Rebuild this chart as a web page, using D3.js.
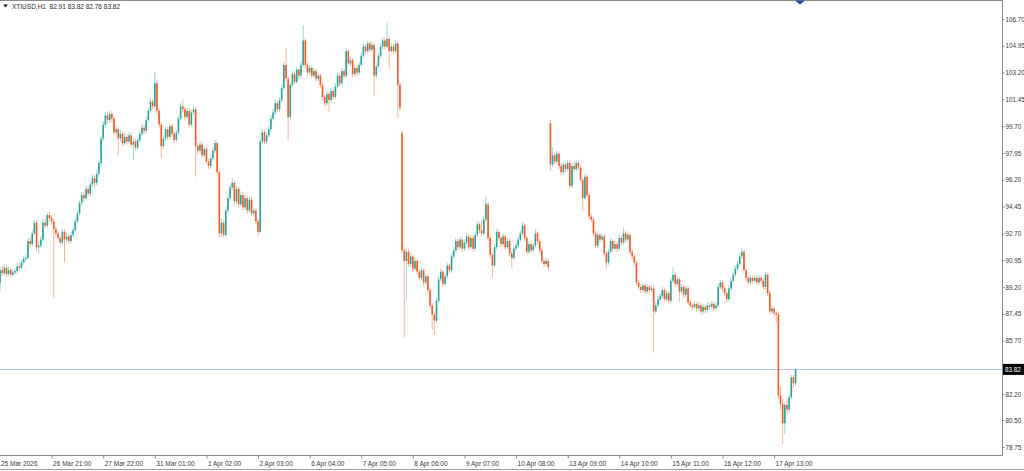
<!DOCTYPE html>
<html><head><meta charset="utf-8">
<script src="https://cdn.jsdelivr.net/npm/d3@7"></script>
<style>html,body{margin:0;padding:0;background:#fff;}svg{display:block;}</style>
</head><body><svg id="c" width="1024" height="471"></svg>
<script>
const symbol = "XTIUSD,H1";
const headerValues = ["82.91", "83.82", "82.76", "83.82"];

const opens = [
89.45,90.30,90.10,90.45,90.05,90.30,90.00,90.15,90.25,90.55,
90.45,90.80,91.05,91.10,92.20,92.00,92.70,93.40,91.80,91.90,
92.30,93.40,93.20,93.90,93.70,93.50,93.00,92.70,92.40,92.10,
92.80,92.30,92.50,92.20,92.60,92.90,93.50,94.00,94.70,95.20,
95.00,95.60,95.30,95.90,96.30,96.00,96.60,97.30,98.90,99.80,
100.40,100.10,100.50,100.20,99.30,99.50,98.90,99.20,98.60,99.00,
98.70,99.10,98.50,98.70,98.30,98.80,99.20,99.60,99.40,100.10,
100.70,101.30,101.00,102.50,100.70,99.80,98.40,98.90,99.50,99.00,
99.70,99.20,98.80,99.30,100.20,101.00,100.80,100.30,100.70,99.80,
100.60,100.80,98.40,98.10,98.50,97.80,98.20,97.40,97.10,97.60,
98.10,98.60,96.70,92.70,93.40,92.60,94.20,95.00,95.70,96.00,
94.80,95.60,94.60,95.20,94.40,95.00,94.20,94.90,94.00,94.20,
93.50,92.80,98.70,99.30,98.70,99.10,99.50,100.20,100.60,101.20,
100.80,101.40,102.20,103.70,102.80,100.30,102.40,103.10,102.60,103.40,
103.00,103.70,105.30,103.70,103.20,103.50,103.00,103.30,102.80,103.00,
102.40,101.60,101.20,101.80,101.40,102.00,101.60,102.30,103.00,102.50,
103.30,103.00,104.60,103.80,104.00,103.10,103.50,103.20,103.70,104.30,
104.90,104.60,105.10,104.70,105.00,103.00,103.60,104.30,104.90,105.30,
104.90,105.40,104.60,104.90,104.60,105.10,102.40,99.25,91.60,90.90,
91.50,90.70,91.20,90.40,90.90,90.20,89.80,90.30,89.50,89.90,
89.00,88.00,87.40,87.00,88.30,89.70,90.20,89.40,89.90,90.60,
90.30,91.20,91.60,92.20,91.80,92.30,91.70,92.10,92.50,91.80,
92.40,91.70,92.60,93.30,92.90,92.70,93.60,94.60,92.40,91.30,
90.60,91.80,92.80,92.40,92.00,92.50,91.80,92.20,91.40,91.10,
91.70,91.90,92.30,92.70,93.20,92.40,91.50,92.00,91.60,91.90,
92.70,92.20,91.60,90.90,90.70,90.90,99.90,97.20,97.80,97.40,
97.90,97.10,96.70,97.20,96.90,97.30,95.80,97.10,96.90,97.30,
97.00,96.20,95.00,96.40,95.20,93.80,93.60,92.70,91.90,92.60,
92.30,92.50,91.40,90.80,91.50,92.20,91.70,92.00,91.70,92.40,
92.10,92.70,92.30,92.60,91.50,91.20,90.80,89.50,89.20,89.00,
89.30,88.90,89.20,89.00,89.10,87.60,88.00,88.40,88.60,89.00,
88.40,88.80,88.30,89.60,90.00,89.40,89.70,88.90,89.20,88.70,
89.10,88.20,88.00,87.90,88.10,87.80,88.00,87.60,87.90,87.70,
88.00,87.90,88.10,87.80,88.00,89.20,89.50,89.10,88.80,88.40,
89.10,89.60,90.00,90.40,90.70,91.20,91.50,90.30,89.80,89.50,
89.80,89.60,89.80,89.50,89.80,89.60,89.20,90.00,88.80,87.60,
87.80,87.50,87.40,82.10,81.55,80.30,81.50,81.20,82.00,83.30,
82.91];

const closes = [
90.30,90.10,90.45,90.05,90.30,90.00,90.15,90.25,90.55,90.45,
90.80,91.05,91.10,92.20,92.00,92.70,93.40,91.80,91.90,92.30,
93.40,93.20,93.90,93.70,93.50,93.00,92.70,92.40,92.10,92.80,
92.30,92.50,92.20,92.60,92.90,93.50,94.00,94.70,95.20,95.00,
95.60,95.30,95.90,96.30,96.00,96.60,97.30,98.90,99.80,100.40,
100.10,100.50,100.20,99.30,99.50,98.90,99.20,98.60,99.00,98.70,
99.10,98.50,98.70,98.30,98.80,99.20,99.60,99.40,100.10,100.70,
101.30,101.00,102.50,100.70,99.80,98.40,98.90,99.50,99.00,99.70,
99.20,98.80,99.30,100.20,101.00,100.80,100.30,100.70,99.80,100.60,
100.80,98.40,98.10,98.50,97.80,98.20,97.40,97.10,97.60,98.10,
98.60,96.70,92.70,93.40,92.60,94.20,95.00,95.70,96.00,94.80,
95.60,94.60,95.20,94.40,95.00,94.20,94.90,94.00,94.20,93.50,
92.80,98.70,99.30,98.70,99.10,99.50,100.20,100.60,101.20,100.80,
101.40,102.20,103.70,102.80,100.30,102.40,103.10,102.60,103.40,103.00,
103.70,105.30,103.70,103.20,103.50,103.00,103.30,102.80,103.00,102.40,
101.60,101.20,101.80,101.40,102.00,101.60,102.30,103.00,102.50,103.30,
103.00,104.60,103.80,104.00,103.10,103.50,103.20,103.70,104.30,104.90,
104.60,105.10,104.70,105.00,103.00,103.60,104.30,104.90,105.30,104.90,
105.40,104.60,104.90,104.60,105.10,102.40,100.90,91.60,90.90,91.50,
90.70,91.20,90.40,90.90,90.20,89.80,90.30,89.50,89.90,89.00,
88.00,87.40,87.00,88.30,89.70,90.20,89.40,89.90,90.60,90.30,
91.20,91.60,92.20,91.80,92.30,91.70,92.10,92.50,91.80,92.40,
91.70,92.60,93.30,92.90,92.70,93.60,94.60,92.40,91.30,90.60,
91.80,92.80,92.40,92.00,92.50,91.80,92.20,91.40,91.10,91.70,
91.90,92.30,92.70,93.20,92.40,91.50,92.00,91.60,91.90,92.70,
92.20,91.60,90.90,90.70,90.90,90.50,97.20,97.80,97.40,97.90,
97.10,96.70,97.20,96.90,97.30,95.80,97.10,96.90,97.30,97.00,
96.20,95.00,96.40,95.20,93.80,93.60,92.70,91.90,92.60,92.30,
92.50,91.40,90.80,91.50,92.20,91.70,92.00,91.70,92.40,92.10,
92.70,92.30,92.60,91.50,91.20,90.80,89.50,89.20,89.00,89.30,
88.90,89.20,89.00,89.10,87.60,88.00,88.40,88.60,89.00,88.40,
88.80,88.30,89.60,90.00,89.40,89.70,88.90,89.20,88.70,89.10,
88.20,88.00,87.90,88.10,87.80,88.00,87.60,87.90,87.70,88.00,
87.90,88.10,87.80,88.00,89.20,89.50,89.10,88.80,88.40,89.10,
89.60,90.00,90.40,90.70,91.20,91.50,90.30,89.80,89.50,89.80,
89.60,89.80,89.50,89.80,89.60,89.20,90.00,88.80,87.60,87.80,
87.50,87.40,82.10,81.55,80.30,81.50,81.20,82.00,83.30,82.91,
83.82];

const highs = [
90.50,90.55,90.70,90.60,90.50,90.45,90.35,90.45,90.75,90.80,
91.00,91.25,91.35,92.40,92.45,92.95,93.60,93.55,92.20,92.55,
93.60,93.70,94.05,94.10,93.90,93.65,93.20,92.90,92.55,93.00,
92.95,92.75,92.65,92.80,93.10,93.70,94.20,94.90,95.40,95.45,
95.80,95.80,96.10,96.55,96.50,96.85,97.50,99.10,100.00,100.60,
100.65,100.70,100.65,100.35,99.75,99.65,99.45,99.35,99.25,99.20,
99.30,99.25,98.95,98.85,99.00,99.40,99.85,99.80,100.30,100.90,
101.55,101.50,103.25,102.65,100.85,99.95,99.10,99.70,99.65,99.90,
99.85,99.35,99.50,100.40,101.20,101.45,100.95,100.90,100.85,100.80,
101.00,100.95,98.60,98.70,98.65,98.40,98.35,97.60,97.80,98.30,
98.80,98.75,96.85,93.70,93.60,94.40,95.20,95.90,96.30,96.15,
95.80,95.75,95.45,95.40,95.25,95.15,95.10,95.05,94.40,94.35,
93.65,98.90,99.50,99.45,99.30,99.70,100.40,100.85,101.40,101.35,
101.60,102.40,103.90,104.85,102.95,102.60,103.30,103.25,103.60,103.55,
103.90,106.30,105.45,103.85,103.70,103.65,103.50,103.45,103.20,103.15,
102.55,101.75,102.00,101.95,102.20,102.15,102.50,103.20,103.15,103.50,
103.45,104.85,104.75,104.20,104.15,103.70,103.65,103.90,104.50,105.10,
105.05,105.30,105.25,105.20,105.15,103.80,104.50,105.10,105.50,105.45,
106.45,105.55,105.10,105.05,105.30,105.25,102.55,99.40,91.80,91.75,
91.65,91.45,91.35,91.15,91.05,90.35,90.50,90.45,90.10,90.05,
89.15,88.15,87.55,88.50,89.90,90.40,90.35,90.10,90.80,90.75,
91.40,91.80,92.40,92.35,92.50,92.45,92.30,92.70,92.65,92.60,
92.55,92.80,93.50,93.45,93.60,93.80,95.10,94.75,92.55,91.45,
92.00,93.00,92.95,92.55,92.70,92.65,92.40,92.35,91.55,91.90,
92.10,92.50,92.90,93.45,93.35,92.55,92.20,92.15,92.10,93.00,
92.85,92.35,91.75,91.05,91.10,91.05,100.10,98.30,97.95,98.10,
98.05,97.25,97.40,97.35,97.50,97.45,97.30,97.40,97.55,97.45,
97.15,96.35,96.60,96.55,95.35,94.00,93.75,92.85,92.80,92.75,
92.70,92.65,91.55,91.70,92.40,92.35,92.20,92.15,92.60,92.55,
93.10,92.85,92.80,92.75,91.65,91.35,90.95,89.65,89.40,89.50,
89.45,89.40,89.35,89.30,89.25,88.20,88.60,88.80,89.20,89.15,
89.00,88.95,89.80,90.50,90.15,89.90,89.85,89.40,89.35,89.30,
89.25,88.35,88.15,88.30,88.25,88.20,88.15,88.10,88.05,88.20,
88.15,88.30,88.25,88.20,89.40,89.70,89.65,89.25,88.95,89.30,
89.80,90.20,90.60,90.90,91.40,91.75,91.65,90.45,89.95,90.00,
89.95,90.00,89.95,90.00,89.95,89.75,90.20,90.15,88.95,88.00,
87.95,87.65,87.55,82.70,81.90,81.70,81.95,82.20,83.45,83.45,
83.82];

const lows = [
88.95,89.90,89.95,89.85,89.90,89.80,89.85,90.00,90.10,90.25,
90.35,90.65,90.85,91.00,91.75,91.85,92.55,91.60,91.40,91.70,
92.15,93.00,93.05,93.45,93.25,88.50,92.45,92.20,91.85,91.95,
90.80,92.10,92.00,92.05,92.45,92.75,93.35,93.85,94.50,94.75,
94.85,95.10,95.15,95.75,95.70,95.85,96.40,97.10,98.70,99.60,
99.85,99.95,99.95,99.10,99.10,97.80,98.70,98.40,98.45,98.50,
98.55,98.30,97.50,98.10,98.15,98.65,99.05,99.20,99.25,99.95,
100.55,100.80,100.85,100.50,99.60,97.60,98.20,98.75,98.80,98.85,
99.00,98.60,98.65,99.15,100.05,100.60,100.10,100.15,99.60,99.65,
100.45,96.40,97.85,97.95,97.60,97.65,97.20,96.90,96.95,97.45,
97.95,96.50,92.40,92.50,92.45,92.45,94.00,94.80,95.50,94.50,
94.60,94.40,94.45,94.20,94.25,94.00,94.05,93.85,93.80,93.30,
92.50,92.70,98.55,98.50,98.55,98.95,99.35,100.05,100.45,100.60,
100.65,101.25,102.05,102.60,98.70,100.15,102.25,102.40,102.45,102.80,
102.85,103.55,103.50,103.00,103.05,102.80,102.85,102.60,102.65,102.20,
101.40,101.00,101.05,100.60,101.25,101.40,101.45,102.15,102.30,102.35,
102.80,102.85,103.60,103.60,102.90,102.95,103.00,103.05,103.55,104.15,
104.40,104.45,104.50,104.55,101.70,102.85,103.45,104.15,104.75,104.70,
104.75,103.40,104.45,104.40,104.45,100.20,100.70,91.40,85.90,88.30,
90.50,90.50,90.20,90.25,90.00,89.60,89.65,89.30,89.35,88.80,
87.80,86.40,86.05,86.85,88.15,89.55,89.20,89.25,89.75,90.10,
90.15,91.05,91.45,91.60,91.65,91.50,91.55,91.95,91.60,91.65,
91.50,91.55,92.45,92.70,92.50,92.55,93.45,92.20,91.10,89.85,
90.45,91.65,92.20,91.80,91.85,91.60,91.65,91.20,90.40,90.95,
91.55,91.75,92.15,92.55,92.20,91.30,91.35,91.40,91.45,91.75,
92.00,91.40,90.70,90.50,90.55,90.30,96.80,97.05,97.20,97.25,
96.90,96.50,96.55,96.70,96.75,95.60,95.65,96.70,96.75,96.80,
96.00,94.20,94.85,95.00,93.60,93.40,92.50,91.70,91.75,92.10,
92.15,91.20,90.40,90.65,91.35,91.50,91.55,91.50,91.55,91.90,
91.95,92.10,92.15,91.30,91.00,90.60,89.30,89.00,88.80,88.85,
88.75,88.75,88.80,88.85,84.90,87.45,87.85,88.25,88.45,88.20,
88.25,88.10,88.15,89.45,89.20,89.25,88.20,88.75,88.50,88.55,
88.00,87.80,87.70,87.75,87.60,87.65,87.40,87.45,87.50,87.55,
87.70,87.75,87.60,87.65,87.85,89.05,88.90,88.60,88.20,88.25,
88.95,89.45,89.85,90.25,90.55,91.05,90.10,89.60,89.30,89.35,
89.40,89.45,89.30,89.35,89.40,89.00,89.05,88.60,87.40,87.45,
87.30,86.85,81.90,81.20,78.95,79.60,80.90,81.00,81.85,82.60,
82.76];

const priceTicks = [106.70,104.95,103.20,101.45,99.70,97.95,96.20,94.45,92.70,90.95,89.20,87.45,85.70,82.20,80.50,78.75];
const currentPrice = 83.82;
const firstBarLabel = "25 Mar 2026";
const timeTickBars = [24,48,72,96,120,144,168,192,216,240,264,288,312,336,360];
const timeTickLabels = ["26 Mar 21:00","27 Mar 22:00","31 Mar 01:00","1 Apr 02:00","2 Apr 03:00","6 Apr 04:00","7 Apr 05:00","8 Apr 06:00","9 Apr 07:00","10 Apr 08:00","13 Apr 09:00","14 Apr 10:00","15 Apr 11:00","16 Apr 12:00","17 Apr 13:00"];

const W = 1024, H = 471, plotW = 1002, plotH = 455;
const FONT = "'Liberation Sans', Arial, sans-serif";
const BULL = "#26a69a", BEAR = "#ff5722";
const N = Math.min(opens.length, closes.length, highs.length, lows.length);
const bars = d3.range(N).map(i => ({i, o: opens[i], h: highs[i], l: lows[i], c: closes[i]}));

const svg = d3.select("#c");
svg.append("rect").attr("width", W).attr("height", H).attr("fill", "#fff");

const x = d3.scaleLinear().domain([0, 466]).range([0, plotW]);
const y = d3.scaleLinear().domain([78.23, 107.94]).range([plotH, 0]);

const plot = svg.append("g");
plot.append("defs").append("clipPath").attr("id", "clip")
  .append("rect").attr("x", 0).attr("y", 0).attr("width", plotW).attr("height", plotH);
const cg = plot.append("g").attr("clip-path", "url(#clip)");

// current price line
const cyLine = Math.round(y(currentPrice)) + 0.5;
cg.append("line").attr("x1", 0).attr("x2", plotW)
  .attr("y1", cyLine).attr("y2", cyLine)
  .attr("stroke", "#b3c2f2").attr("stroke-width", 1);

// wicks
cg.selectAll("line.wick").data(bars).join("line").attr("class", "wick")
  .attr("x1", d => x(d.i)).attr("x2", d => x(d.i))
  .attr("y1", d => y(d.h)).attr("y2", d => y(d.l))
  .attr("stroke", d => d.c >= d.o ? BULL : BEAR)
  .attr("stroke-opacity", 0.45).attr("stroke-width", 1);

// bodies
const bw = 1.6;
cg.selectAll("rect.body").data(bars).join("rect").attr("class", "body")
  .attr("x", d => x(d.i) - bw / 2).attr("width", bw)
  .attr("y", d => y(Math.max(d.o, d.c)))
  .attr("height", d => Math.max(1, Math.abs(y(d.o) - y(d.c))))
  .attr("fill", d => d.c >= d.o ? BULL : BEAR);

// top frame line
svg.append("line").attr("x1", 0).attr("x2", plotW + 0.5).attr("y1", 0.5).attr("y2", 0.5).attr("stroke", "#8a8a8a");

// right axis
const yAxis = d3.axisRight(y).tickValues(priceTicks).tickFormat(d3.format(".2f")).tickSize(2).tickPadding(1);
const ya = svg.append("g").attr("transform", `translate(${plotW + 0.5},0)`).call(yAxis);
ya.select(".domain").attr("stroke", "#8a8a8a").attr("d", `M0,0V${plotH + 0.5}`);
ya.selectAll(".tick line").attr("stroke", "#8a8a8a");
ya.selectAll(".tick text").attr("fill", "#3a3a3a").style("font-family", FONT).style("font-size", "6.3px");

// current price tag
const cy = y(currentPrice);
svg.append("rect").attr("x", plotW + 1).attr("y", cy - 5.5).attr("width", W - plotW - 1).attr("height", 11).attr("fill", "#000");
svg.append("text").attr("x", plotW + 3).attr("y", cy).attr("dy", "0.35em")
  .attr("fill", "#fff").style("font-family", FONT).style("font-size", "6.3px").text(d3.format(".2f")(currentPrice));

// bottom axis
const xAxis = d3.axisBottom(x).tickValues(timeTickBars).tickFormat((d, k) => timeTickLabels[k]).tickSize(3).tickPadding(3);
const xa = svg.append("g").attr("transform", `translate(0,${plotH + 0.5})`).call(xAxis);
xa.select(".domain").attr("stroke", "#8a8a8a").attr("d", `M0,0H${plotW + 0.5}`);
xa.selectAll(".tick line").attr("stroke", "#8a8a8a");
xa.selectAll(".tick text").attr("fill", "#3a3a3a").attr("text-anchor", "start").attr("dx", "1")
  .style("font-family", FONT).style("font-size", "6.5px");
svg.append("text").attr("x", 1).attr("y", plotH + 10.5).attr("fill", "#3a3a3a")
  .style("font-family", FONT).style("font-size", "6.5px").text(firstBarLabel);

// bottom border
svg.append("line").attr("x1", 0).attr("x2", W).attr("y1", 469.5).attr("y2", 469.5).attr("stroke", "#a0a0a0");

// header
svg.append("path").attr("d", "M3,4.5 L8,4.5 L5.5,7.5 Z").attr("fill", "#222");
svg.append("text").attr("x", 12).attr("y", 8.5).attr("fill", "#2a2a2a")
  .style("font-family", FONT).style("font-size", "6.5px").attr("xml:space", "preserve")
  .text(symbol + "  " + headerValues.join(" "));

// chart shift marker
svg.append("path").attr("d", "M795,0.5 L805,0.5 L800,4.5 Z").attr("fill", "#2b48a6");
</script></body></html>
